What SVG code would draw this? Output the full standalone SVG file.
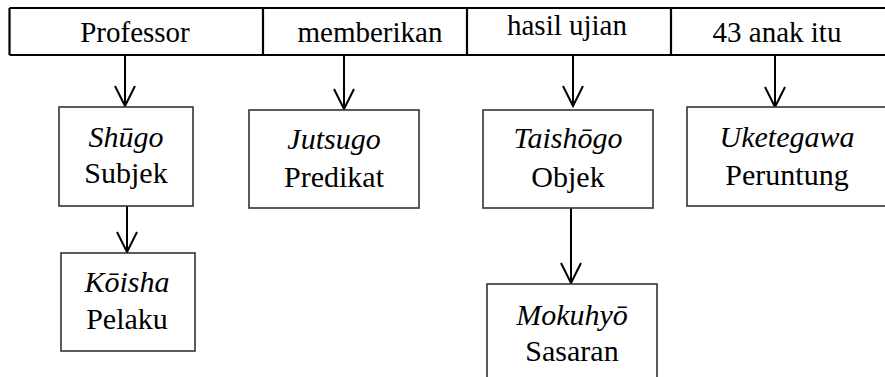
<svg xmlns="http://www.w3.org/2000/svg" width="885" height="377" viewBox="0 0 885 377" font-family="Liberation Serif, DejaVu Serif, serif">
<style>
.t{fill:#000;text-anchor:middle}
.h{font-size:29px}
.b{font-size:30px}
.i{font-style:italic}
.bar{fill:none;stroke:#000;stroke-width:2.2}
.box{fill:#fff;stroke:#333;stroke-width:1.6}
.ln{fill:none;stroke:#000;stroke-width:2}
</style>
<rect width="885" height="377" fill="#fff"/>
<g id="topbar">
<path class="bar" d="M9.5 8 H890 M9.5 55 H890 M9.5 8 V55 M263 8 V55 M467 8 V55 M671 8 V55"/>
<text class="t h" font-family="Liberation Serif, serif" x="135" y="42">Professor</text>
<text class="t h" font-family="Liberation Serif, serif" x="370" y="42">memberikan</text>
<text class="t h" font-family="Liberation Serif, serif" x="567" y="35">hasil ujian</text>
<text class="t h" font-family="Liberation Serif, serif" x="777" y="42">43 anak itu</text>
</g>
<g id="connectors">
<path class="ln" d="M125 55 V106 M115 86 L125 106 L135 86"/>
<path class="ln" d="M127 206 V252 M117 232 L127 252 L137 232"/>
<path class="ln" d="M344 55 V109 M334 89 L344 109 L354 89"/>
<path class="ln" d="M573 55 V106 M563 86 L573 106 L583 86"/>
<path class="ln" d="M571 208 V283 M561 263 L571 283 L581 263"/>
<path class="ln" d="M775 55 V107 M765 87 L775 107 L785 87"/>
</g>
<g id="shugo">
<rect class="box" x="59" y="107" width="134" height="99"/>
<text class="t b i" font-family="Liberation Serif, serif" x="126" y="147">Shūgo</text>
<text class="t b" font-family="Liberation Serif, serif" x="126" y="183">Subjek</text>
</g>
<g id="koisha">
<rect class="box" x="61" y="253" width="134" height="98"/>
<text class="t b i" font-family="Liberation Serif, serif" x="127" y="292">Kōisha</text>
<text class="t b" font-family="Liberation Serif, serif" x="127" y="329">Pelaku</text>
</g>
<g id="jutsugo">
<rect class="box" x="249" y="110" width="170" height="98"/>
<text class="t b i" font-family="Liberation Serif, serif" x="334" y="149">Jutsugo</text>
<text class="t b" font-family="Liberation Serif, serif" x="334" y="187">Predikat</text>
</g>
<g id="taishogo">
<rect class="box" x="483" y="110" width="170" height="98"/>
<text class="t b i" font-family="Liberation Serif, serif" x="568" y="148">Taishōgo</text>
<text class="t b" font-family="Liberation Serif, serif" x="568" y="187">Objek</text>
</g>
<g id="mokuhyo">
<rect class="box" x="487" y="284" width="170" height="110"/>
<text class="t b i" font-family="Liberation Serif, serif" x="572" y="325">Mokuhyō</text>
<text class="t b" font-family="Liberation Serif, serif" x="572" y="361">Sasaran</text>
</g>
<g id="uketegawa">
<rect class="box" x="687" y="107" width="210" height="99"/>
<text class="t b i" font-family="Liberation Serif, serif" x="787" y="147">Uketegawa</text>
<text class="t b" font-family="Liberation Serif, serif" x="787" y="185">Peruntung</text>
</g>
</svg>
